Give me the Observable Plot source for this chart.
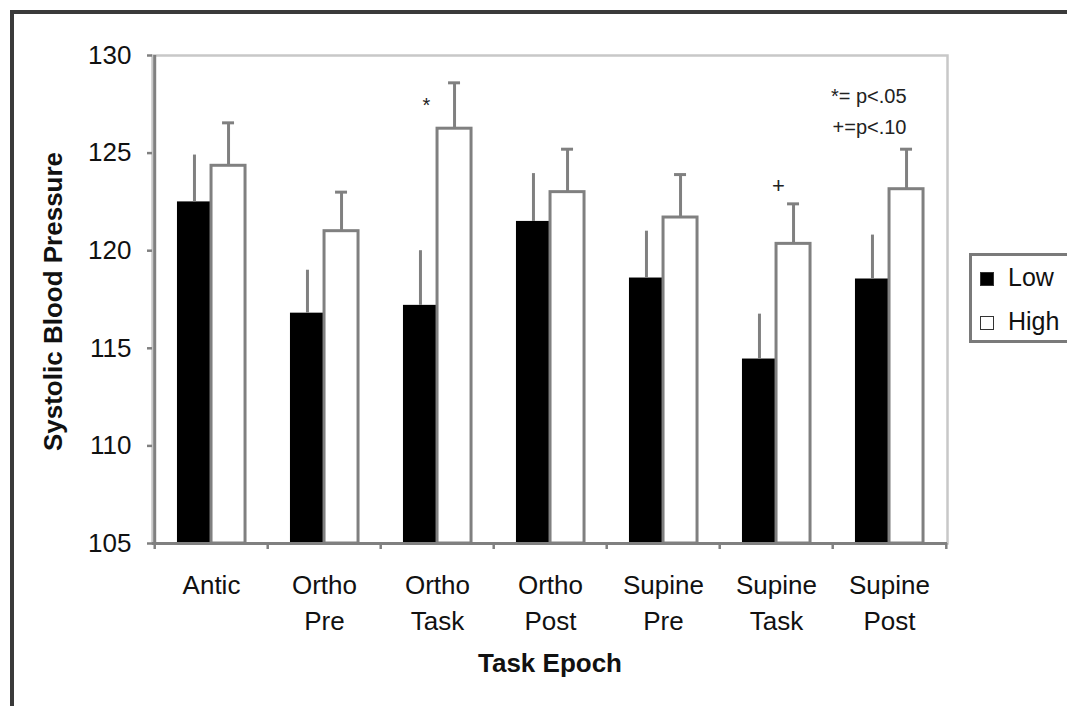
<!DOCTYPE html>
<html>
<head>
<meta charset="utf-8">
<script src="https://cdn.jsdelivr.net/npm/d3@7"></script>
<script src="https://cdn.jsdelivr.net/npm/@observablehq/plot@0.6"></script>
<style>
  html, body { margin: 0; padding: 0; background: #fff; overflow: hidden; }
  body { width: 1067px; height: 706px; position: relative; font-family: "Liberation Sans", Arial, sans-serif; }
  #chart { position: absolute; left: 0; top: 0; }
  #border { position: absolute; left: 10px; top: 10px; width: 1060px; height: 700px;
            border-top: 4px solid #3a3a3a; border-left: 4px solid #3a3a3a; pointer-events: none; }
  #legend { position: absolute; left: 969px; top: 253px; width: 120px; height: 84px;
            border: 3px solid #7a7a7a; border-right: none; background: #fff; }
  .sw { position: absolute; left: 8px; width: 12px; height: 12px; border: 1.5px solid #333; }
  .lt { position: absolute; left: 36px; font-size: 25px; color: #111; line-height: 1; }
</style>
</head>
<body>
<div id="chart"></div>
<div id="border"></div>
<div id="legend"></div>
<script>
const categories = ["Antic", "Ortho\nPre", "Ortho\nTask", "Ortho\nPost", "Supine\nPre", "Supine\nTask", "Supine\nPost"];
const lowMean  = [122.5, 116.8, 117.2, 121.5, 118.6, 114.45, 118.55];
const lowSE    = [2.4, 2.2, 2.8, 2.45, 2.4, 2.3, 2.25];
const highMean = [124.35, 121.0, 126.25, 123.0, 121.7, 120.35, 123.15];
const highSE   = [2.2, 2.0, 2.35, 2.2, 2.2, 2.05, 2.05];
const yTicks = [105, 110, 115, 120, 125, 130];
const seriesNames = ["Low", "High"];
const sigCats = ["Ortho\nTask", "Supine\nTask"];
const sigSymbols = ["*", "+"];
const sigY = [127.7, 123.3];
const notes = ["*= p<.05", "+=p<.10"];
const xTitle = "Task Epoch";
const yTitle = "Systolic Blood Pressure";

const low = categories.map((c, i) => ({cat: c, v: lowMean[i], top: lowMean[i] + lowSE[i]}));
const high = categories.map((c, i) => ({cat: c, v: highMean[i], top: highMean[i] + highSE[i]}));
const base = yTicks[0];

const gray = "#808080";
const W = 1067, H = 706, mL = 152, mR = 120, mT = 55, mB = 163;
const half = (W - mL - mR) / categories.length / 2;
const bw = (W - mL - mR) / categories.length * 0.3 / 2;

const plot = Plot.plot({
  width: W, height: H,
  marginLeft: mL, marginRight: mR, marginTop: mT, marginBottom: mB,
  style: {fontFamily: "'Liberation Sans', Arial, sans-serif", color: "#111", background: "transparent"},
  x: {domain: categories, paddingInner: 0.7, paddingOuter: 0.35, label: null},
  y: {domain: [yTicks[0], yTicks[yTicks.length - 1]], label: null},
  marks: [
    Plot.frame({stroke: "#c8c8c8", strokeWidth: 2.5}),
    Plot.barY(low, {x: "cat", y1: () => base, y2: "v", fill: "#000", dx: -bw}),
    Plot.barY(high, {x: "cat", y1: () => base, y2: "v", fill: "#fff", stroke: gray, strokeWidth: 3, dx: bw}),
    Plot.ruleX(low, {x: "cat", y1: "v", y2: "top", stroke: gray, strokeWidth: 3, dx: -bw}),
    Plot.ruleX(high, {x: "cat", y1: "v", y2: "top", stroke: gray, strokeWidth: 3, dx: bw}),
    Plot.tickY(high, {x: "cat", y: "top", stroke: gray, strokeWidth: 3, dx: bw, insetLeft: 11, insetRight: 11}),
    Plot.ruleY([base], {stroke: gray, strokeWidth: 3}),
    Plot.ruleX([categories[0]], {dx: -half, stroke: gray, strokeWidth: 3}),
    Plot.axisY({ticks: yTicks, tickSize: 5, tickPadding: 16, fontSize: 26, stroke: gray, strokeWidth: 2.5, label: null}),
    Plot.axisX({tickSize: 0, tickPadding: 25, fontSize: 26, lineHeight: 1.385, label: null}),
    Plot.axisX({text: null, tickSize: 6, dx: -half, stroke: gray, strokeWidth: 2.5, label: null}),
    Plot.axisX({ticks: [categories[categories.length - 1]], text: null, tickSize: 6, dx: half, stroke: gray, strokeWidth: 2.5, label: null}),
    Plot.text([sigSymbols[0]], {x: () => sigCats[0], y: () => sigY[0], text: d => d, fontSize: 20, dx: -11, dy: 5, fill: "#222"}),
    Plot.text([sigSymbols[1]], {x: () => sigCats[1], y: () => sigY[1], text: d => d, fontSize: 22, dx: 2, fill: "#222"}),
    Plot.text([notes.join("\n")], {frameAnchor: "top-right", textAnchor: "end", lineAnchor: "top", dx: -41, dy: 25, fontSize: 20, lineHeight: 1.55, fill: "#222"}),
    Plot.text([yTitle], {frameAnchor: "left", textAnchor: "middle", lineAnchor: "middle", rotate: -90, dx: -99, dy: 2, fontSize: 26, fontWeight: "bold", fill: "#111"}),
    Plot.text([xTitle], {frameAnchor: "bottom", textAnchor: "middle", lineAnchor: "middle", dy: 120, fontSize: 26, fontWeight: "bold", fill: "#111"})
  ]
});
document.getElementById("chart").appendChild(plot);

const legend = document.getElementById("legend");
const fills = ["#000", "#fff"];
seriesNames.forEach((name, i) => {
  const sw = document.createElement("div");
  sw.className = "sw";
  sw.style.top = (16 + i * 44) + "px";
  sw.style.background = fills[i];
  legend.appendChild(sw);
  const t = document.createElement("div");
  t.className = "lt";
  t.style.top = (9 + i * 44) + "px";
  t.textContent = name;
  legend.appendChild(t);
});
</script>
</body>
</html>
